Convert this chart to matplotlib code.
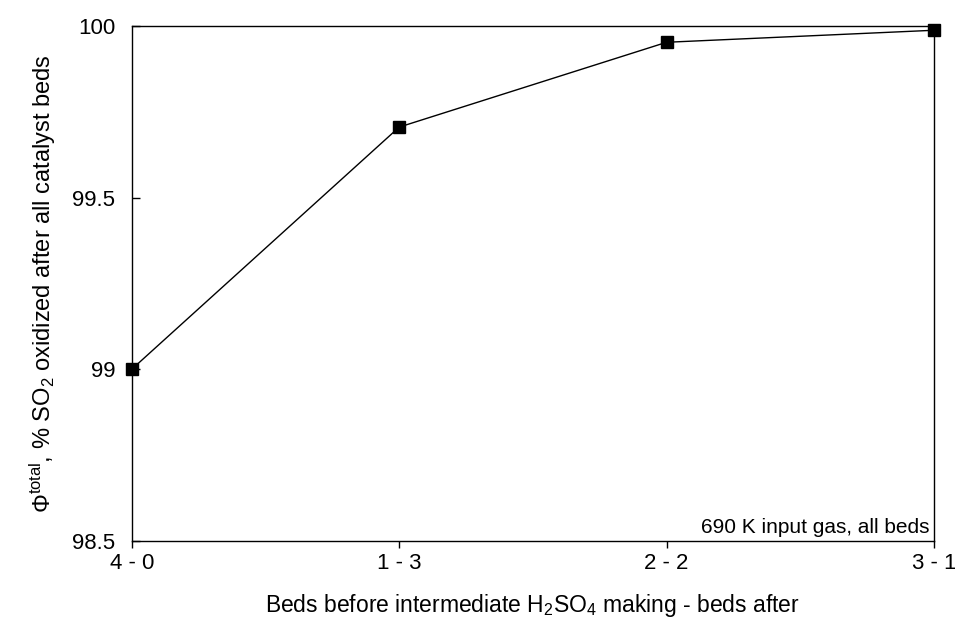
import matplotlib
matplotlib.use("Agg")
import matplotlib.pyplot as plt

# Data
configs = ["4 - 0", "1 - 3", "2 - 2", "3 - 1"]
phi_total = [99.0, 99.705, 99.952, 99.987]
y_ticks = [98.5, 99, 99.5, 100]
y_tick_labels = ["98.5", "99", "99.5", "100"]

plt.rcParams["font.family"] = ["Liberation Sans", "DejaVu Sans"]
plt.rcParams["mathtext.fontset"] = "custom"
plt.rcParams["mathtext.rm"] = "Liberation Sans"
plt.rcParams["mathtext.it"] = "Liberation Sans"

fig = plt.figure(figsize=(9.55, 6.29), dpi=100)
ax = fig.add_axes([0.138, 0.14, 0.840, 0.819])

x = list(range(len(configs)))
ax.plot(x, phi_total, color="black", lw=1, marker="s", markersize=8.5,
        clip_on=False, zorder=3)

ax.set_xlim(0, 3)
ax.set_ylim(98.5, 100)
ax.set_xticks(x)
ax.set_xticklabels(configs, fontsize=16)
ax.set_yticks(y_ticks)
ax.set_yticklabels(y_tick_labels, fontsize=16)
ax.tick_params(axis="y", direction="in", length=6, width=1, pad=12)
ax.tick_params(axis="x", direction="out", length=5, width=1, pad=4)
for s in ax.spines.values():
    s.set_linewidth(1)

ax.set_xlabel(r"Beds before intermediate H$_2$SO$_4$ making - beds after",
              fontsize=16.5, labelpad=13)
ax.set_ylabel(r"$\Phi^{\rm total}$, % SO$_2$ oxidized after all catalyst beds",
              fontsize=17, labelpad=10)

ax.text(0.994, 0.008, "690 K input gas, all beds", transform=ax.transAxes,
        ha="right", va="bottom", fontsize=15)

fig.savefig("out.png", dpi=100)
